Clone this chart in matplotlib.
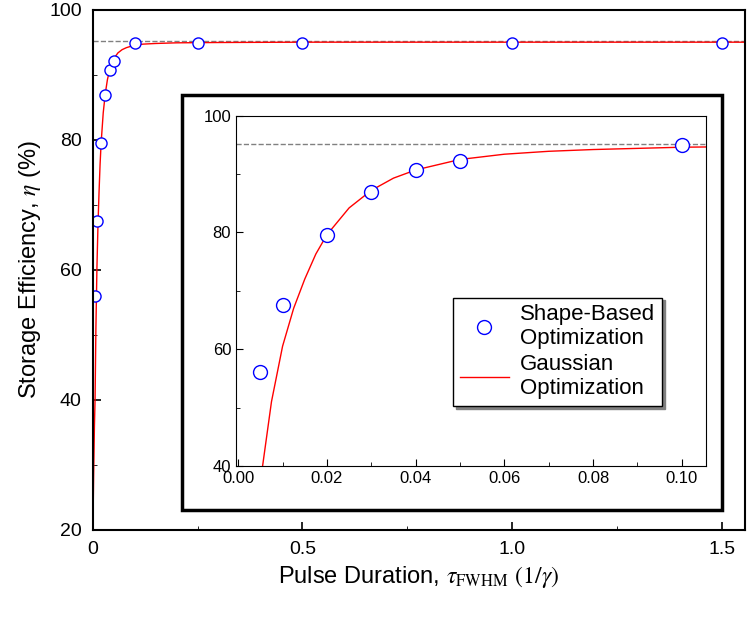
import matplotlib
matplotlib.use("Agg")
import matplotlib.pyplot as plt
from matplotlib.patches import Rectangle

plt.rcParams['font.family'] = 'Liberation Sans'
plt.rcParams['mathtext.fontset'] = 'stix'

pts_x = [0.005, 0.01, 0.02, 0.03, 0.04, 0.05, 0.1, 0.25, 0.5, 1.0, 1.5]
pts_y = [56, 67.6, 79.6, 86.9, 90.7, 92.2, 94.9, 94.9, 94.9, 94.9, 94.9]
gx = [0.0, 0.002, 0.004, 0.0055, 0.0075, 0.01, 0.0125, 0.015, 0.0175, 0.02, 0.025, 0.03,
      0.035, 0.04, 0.05, 0.06, 0.07, 0.08, 0.09, 0.1, 0.12, 0.15, 0.2, 0.3, 0.5, 1.0, 1.56]
gy = [18, 28, 36, 40, 51, 60.5, 67, 72, 76.3, 79.6, 84.2, 87.2,
      89.3, 90.7, 92.5, 93.4, 93.9, 94.2, 94.4, 94.6, 94.75, 94.85, 94.95, 95.0, 95.05, 95.05, 95.05]
limit = 95.2

fig = plt.figure(figsize=(7.48, 6.22), dpi=100)
ax = fig.add_axes([0.124, 92/622, 0.872, 520/622])
ax.axhline(limit, color='gray', ls='--', lw=1)
ax.plot(gx, gy, color='red', lw=1)
ax.plot(pts_x, pts_y, 'o', mfc='white', mec='blue', ms=8)
ax.set_xlim(0, 1.555)
ax.set_ylim(20, 100)
ax.set_xticks([0, 0.5, 1.0, 1.5])
ax.set_xticklabels(['0', '0.5', '1.0', '1.5'])
ax.set_yticks([20, 40, 60, 80, 100])
ax.set_xticks([0.25, 0.75, 1.25], minor=True)
ax.set_yticks([30, 50, 70, 90], minor=True)
ax.tick_params(direction='in', labelsize=14, length=6, width=1.2, pad=8)
ax.tick_params(which='minor', direction='in', length=3)
for s in ax.spines.values():
    s.set_linewidth(1.5)
ax.set_xlabel(r'Pulse Duration, $\tau_{\mathrm{FWHM}}$ $(1/\gamma)$', fontsize=17)
ax.set_ylabel(r'Storage Efficiency, $\eta$ (%)', fontsize=17)

fig.patches.append(Rectangle((182/748, 1-510/622), 540/748, 415/622, transform=fig.transFigure,
                             fill=True, facecolor='white', edgecolor='black', lw=2.5, zorder=2))

ins = fig.add_axes([0.3155, 0.251, 0.628, 0.563], zorder=3)
ins.axhline(limit, color='gray', ls='--', lw=1)
ins.plot(gx, gy, color='red', lw=1, label='Gaussian\nOptimization')
ins.plot(pts_x, pts_y, 'o', mfc='white', mec='blue', ms=10, label='Shape-Based\nOptimization')
ins.set_xlim(-0.0005, 0.1054)
ins.set_ylim(40, 100)
ins.set_xticks([0, 0.02, 0.04, 0.06, 0.08, 0.10])
ins.set_xticklabels(['0.00', '0.02', '0.04', '0.06', '0.08', '0.10'])
ins.set_yticks([40, 60, 80, 100])
ins.set_xticks([0.01, 0.03, 0.05, 0.07, 0.09], minor=True)
ins.set_yticks([50, 70, 90], minor=True)
ins.tick_params(direction='in', labelsize=12, length=5)
ins.tick_params(which='minor', direction='in', length=3)
h, l = ins.get_legend_handles_labels()
leg = ins.legend([h[1], h[0]], [l[1], l[0]], loc='lower right', bbox_to_anchor=(0.93, 0.14),
                 fontsize=16, fancybox=False, shadow={'color': 'gray', 'alpha': 1}, framealpha=1,
                 edgecolor='black', handlelength=2.2, handletextpad=0.5, borderpad=0.3, labelspacing=0.2)
leg.get_frame().set_linewidth(1)
fig.savefig('out.png', dpi=100)
